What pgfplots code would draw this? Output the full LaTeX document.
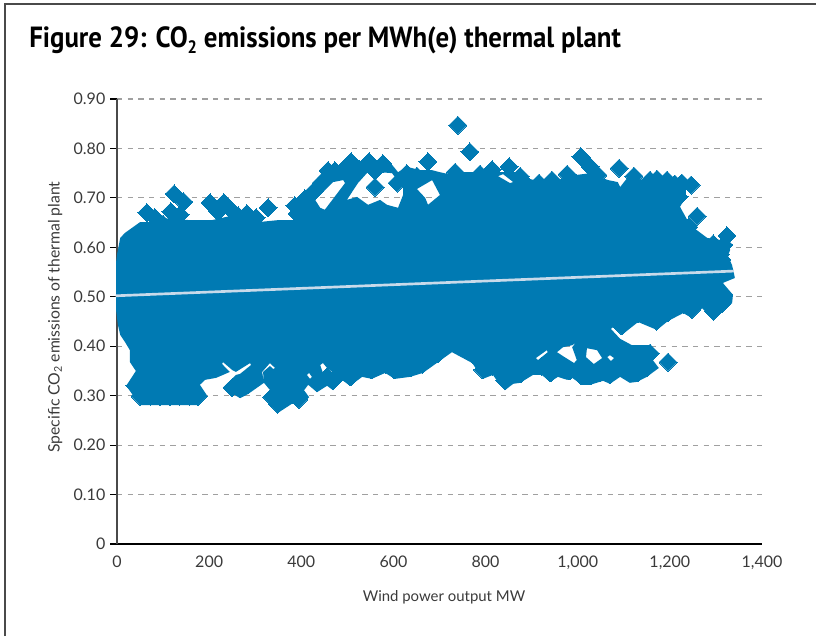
\documentclass[border=0pt]{standalone}
\usepackage{fontspec}
\setmainfont{Lato}
\newfontfamily\titlefont[FakeStretch=0.92]{PT Sans}
\usepackage{pgfplots}
\pgfplotsset{compat=1.18}

\definecolor{cloud}{HTML}{007AB3}
\definecolor{trend}{HTML}{C9DAEA}
\definecolor{gridgrey}{HTML}{A0A0A0}
\definecolor{framegrey}{HTML}{4A4A4A}
\definecolor{labelgrey}{HTML}{3A3A3A}

% outline of the solid mass, where single points cannot be told apart.
% The white gaps inside it are loops of the same outline (even odd fill).
\pgfplotstableread{
x y
-2 .514
-2 .570
0 .585
7 .619
17 .629
35 .641
50 .651
72 .651
100 .659
158 .655
206 .655
263 .667
306 .651
349 .655
382 .655
397 .686
419 .716
441 .736
462 .756
469 .756
469 .732
430 .696
441 .680
451 .676
495 .730
491 .736
469 .732
469 .756
495 .756
527 .767
553 .767
553 .761
523 .730
499 .696
521 .702
545 .686
571 .696
586 .686
610 .680
621 .706
621 .720
597 .750
571 .752
553 .761
553 .767
597 .767
610 .752
629 .763
658 .756
684 .756
684 .736
651 .718
669 .700
675 .686
701 .706
684 .736
684 .756
701 .752
734 .745
755 .752
784 .752
810 .752
838 .752
838 .748
827 .744
842 .736
853 .730
860 .732
838 .748
838 .752
864 .752
896 .738
944 .730
977 .744
1027 .750
1048 .742
1066 .736
1087 .732
1092 .722
1109 .742
1122 .740
1144 .736
1172 .732
1194 .732
1226 .726
1246 .722
1235 .716
1235 .702
1222 .682
1244 .645
1281 .619
1309 .615
1324 .605
1331 .595
1326 .583
1335 .564
1339 .548
1341 .538
1315 .528
1337 .504
1335 .487
1294 .453
1270 .477
1248 .457
1229 .467
1196 .451
1172 .433
1131 .449
1096 .423
1077 .439
1072 .435
1092 .415
1118 .402
1157 .402
1176 .386
1163 .372
1176 .356
1150 .338
1129 .328
1113 .326
1092 .338
1070 .324
1055 .330
1064 .378
1070 .382
1079 .376
1072 .370
1064 .378
1055 .330
1027 .322
1018 .378
1020 .396
1042 .392
1053 .376
1035 .364
1018 .378
1027 .322
1009 .322
988 .336
992 .366
968 .380
955 .388
968 .398
988 .402
996 .407
988 .398
998 .372
992 .366
988 .336
977 .332
957 .338
940 .328
922 .342
914 .372
909 .376
933 .392
935 .388
914 .372
922 .342
903 .342
875 .326
860 .324
853 .342
849 .346
860 .354
862 .350
853 .342
860 .324
842 .311
831 .322
816 .342
794 .334
771 .366
727 .388
697 .368
664 .346
636 .338
603 .334
582 .346
553 .334
532 .338
506 .320
488 .332
469 .311
456 .320
458 .342
447 .346
441 .362
447 .366
456 .356
467 .348
458 .342
456 .320
434 .307
415 .322
412 .342
417 .346
423 .338
419 .334
412 .342
415 .322
406 .311
417 .297
395 .275
382 .285
349 .265
330 .285
336 .307
319 .326
315 .348
332 .366
343 .356
339 .354
332 .360
317 .348
319 .326
284 .303
267 .295
230 .316
258 .342
267 .344
291 .362
289 .366
258 .348
250 .352
230 .368
228 .364
245 .348
215 .336
191 .332
180 .322
195 .301
176 .281
50 .281
20 .320
41 .350
28 .368
28 .392
17 .409
7 .423
2 .443
-2 .473
}\coretable

% diamonds that can be read at the rim of the cloud
\pgfplotstableread{
x y
65 .670
82 .660
100 .647
124 .708
145 .692
117 .672
137 .666
202 .690
232 .690
247 .676
219 .672
282 .668
302 .660
328 .680
263 .664
386 .684
391 .668
408 .698
412 .680
402 .692
428 .714
443 .730
458 .755
473 .755
454 .740
508 .773
547 .773
577 .769
491 .757
527 .757
560 .755
560 .722
608 .730
675 .773
629 .749
651 .744
766 .793
734 .752
708 .732
788 .748
814 .757
851 .763
740 .847
875 .744
886 .730
916 .730
944 .736
977 .748
1007 .783
1027 .763
1044 .746
1090 .760
1122 .744
1157 .736
1172 .738
1194 .736
1211 .728
1226 .730
1246 .726
1220 .702
1259 .663
1241 .641
1294 .607
1324 .623
1317 .605
1309 .585
1313 .575
1317 .504
1313 .487
1294 .471
1270 .496
1248 .475
1229 .485
1196 .469
1172 .451
1131 .467
1096 .441
1157 .386
1196 .368
1150 .356
1129 .346
1092 .356
1070 .342
1048 .346
1027 .340
1009 .340
983 .350
957 .356
940 .346
922 .360
875 .344
842 .330
860 .344
794 .352
816 .360
771 .384
697 .386
664 .364
636 .356
603 .352
582 .364
553 .352
532 .356
506 .338
488 .350
469 .330
456 .338
434 .326
395 .293
382 .303
362 .299
349 .283
336 .297
284 .322
267 .314
250 .316
39 .320
50 .299
72 .299
93 .299
115 .299
136 .299
158 .299
176 .299
}\rimtable

\begin{document}
\begin{tikzpicture}
\path[use as bounding box] (0pt,0pt) rectangle (612pt,477pt);
\draw[framegrey,line width=1.2pt] (3.75pt,0pt) -- (3.75pt,474pt) -- (612pt,474pt);
\node[anchor=base west,inner sep=0pt,text=black] at (21.75pt,441pt)
  {\titlefont\fontsize{21.9}{26}\selectfont\bfseries Figure 29: CO\raisebox{-0.35ex}{\fontsize{13.5}{15}\selectfont 2} emissions per MWh(e) thermal plant};
\begin{axis}[
  at={(87.75pt,69pt)}, anchor=south west,
  scale only axis, width=483.75pt, height=333.75pt,
  xmin=0, xmax=1400, ymin=0, ymax=0.9,
  clip=false,
  axis x line*=bottom, axis y line*=left,
  x axis line style={-,black,line width=0.9pt},
  y axis line style={-,framegrey,line width=1.2pt},
  xtick={0,200,400,600,800,1000,1200,1400},
  xticklabels={0,200,400,600,800,{1,000},{1,200},{1,400}},
  ytick={0,0.1,0.2,0.3,0.4,0.5,0.6,0.7,0.8,0.9},
  yticklabels={0,0.10,0.20,0.30,0.40,0.50,0.60,0.70,0.80,0.90},
  tick align=outside, major tick length=5.25pt,
  xtick style={draw=none},
  ytick style={black,line width=0.8pt},
  ymajorgrids,
  major grid style={gridgrey,line width=0.8pt,dash pattern=on 4pt off 4pt},
  ticklabel style={font=\fontsize{12}{14}\selectfont,text=labelgrey},
  xlabel={Wind power output MW},
  ylabel={Specific CO\raisebox{-0.3ex}{\fontsize{8}{9}\selectfont 2} emissions of thermal plant},
  xlabel style={at={(axis description cs:0.507,-0.119)},anchor=center,font=\fontsize{11.2}{13}\selectfont,text=labelgrey},
  ylabel style={at={(axis description cs:-0.096,0.51)},anchor=center,font=\fontsize{11.8}{14}\selectfont,text=labelgrey},
]
\addplot[fill=cloud,draw=none,even odd rule] table[x=x,y=y] {\coretable} -- cycle;
\addplot[cloud,only marks,mark=square*,mark size=4.77pt,
  mark options={rotate=45,fill=cloud,draw=cloud,line width=0pt}] table[x=x,y=y] {\rimtable};
\addplot[trend,line width=2pt] coordinates {(-3,0.502)(1339,0.552)};
\end{axis}
\end{tikzpicture}
\end{document}
